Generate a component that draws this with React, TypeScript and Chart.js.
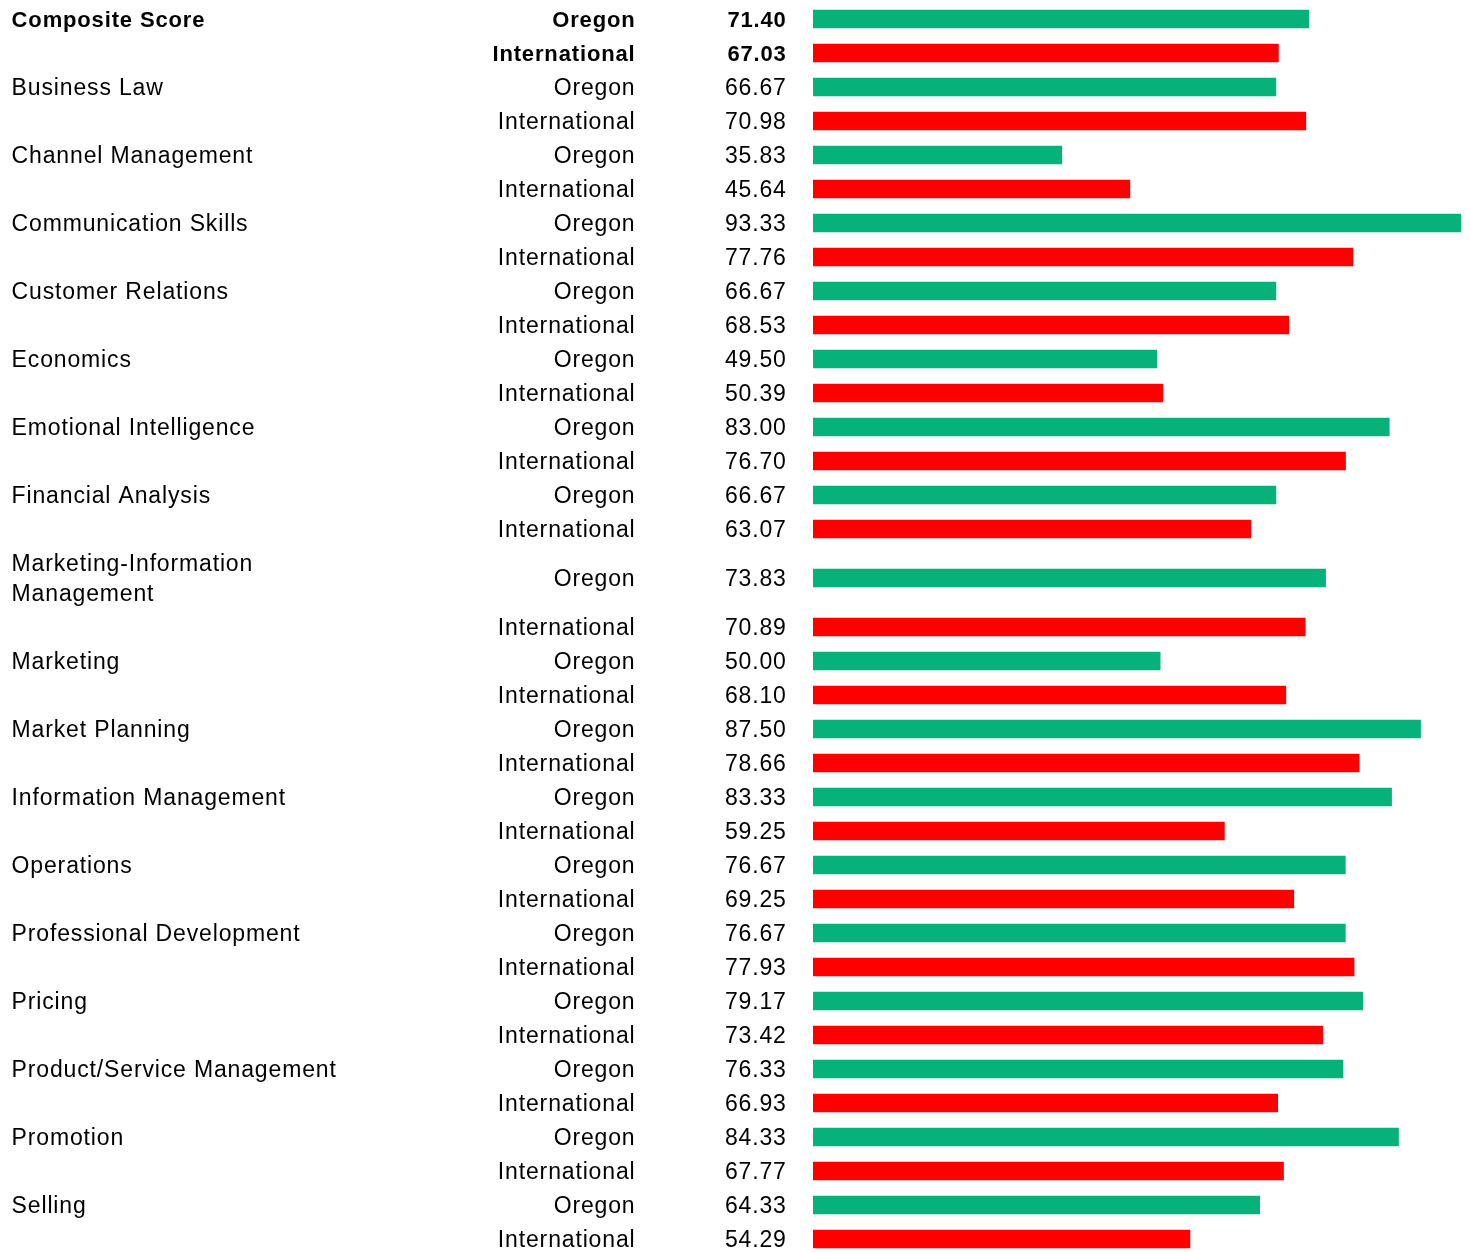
import React, { useEffect, useRef } from 'react';
import { Chart, registerables } from 'chart.js';

Chart.register(...registerables);

// ---- data ----
const categories: (string | string[])[] = [
  'Composite Score',
  'Business Law',
  'Channel Management',
  'Communication Skills',
  'Customer Relations',
  'Economics',
  'Emotional Intelligence',
  'Financial Analysis',
  ['Marketing-Information', 'Management'],
  'Marketing',
  'Market Planning',
  'Information Management',
  'Operations',
  'Professional Development',
  'Pricing',
  'Product/Service Management',
  'Promotion',
  'Selling',
];

const groups = ['Oregon', 'International'];

const oregonScores = [
  71.4, 66.67, 35.83, 93.33, 66.67, 49.5, 83.0, 66.67, 73.83, 50.0, 87.5, 83.33, 76.67, 76.67, 79.17,
  76.33, 84.33, 64.33,
];

const internationalScores = [
  67.03, 70.98, 45.64, 77.76, 68.53, 50.39, 76.7, 63.07, 70.89, 68.1, 78.66, 59.25, 69.25, 77.93, 73.42,
  66.93, 67.77, 54.29,
];

const boldCategoryCount = 1; // "Composite Score" rows are bold

// ---- styles / layout ----
const GREEN = '#06B17A';
const RED = '#FF0000';
const FONT = "'Liberation Sans', Arial, Helvetica, sans-serif";
const W = 1471;
const H = 1253;
const ROW_PX = 34;
const LINE_PX = 30;
const TOP_PX = 2;

export default function App() {
  const ref = useRef<HTMLCanvasElement>(null);

  useEffect(() => {
    if (!ref.current) return;

    // row centres in "row units", taller rows for multi-line category labels
    const rowPos: number[] = [];
    let top = 0;
    categories.forEach((c) => {
      const lines = Array.isArray(c) ? c.length : 1;
      const h = 1 + ((lines - 1) * LINE_PX) / ROW_PX;
      rowPos.push(top + h / 2);
      top += h;
      rowPos.push(top + 0.5);
      top += 1;
    });

    const catLabels: (string | string[])[] = [];
    const grpLabels: string[] = [];
    const valLabels: string[] = [];
    categories.forEach((c, k) => {
      catLabels.push(c, '');
      grpLabels.push(groups[0], groups[1]);
      valLabels.push(oregonScores[k].toFixed(2), internationalScores[k].toFixed(2));
    });

    const boldRows = boldCategoryCount * 2;
    const yMin = -TOP_PX / ROW_PX;
    const yMax = yMin + H / ROW_PX;

    const makeAxis = (
      labels: (string | string[])[],
      weight: number,
      width: number,
      crossAlign: 'near' | 'far',
      padding: number
    ) => ({
      type: 'linear',
      position: 'left',
      reverse: true,
      min: yMin,
      max: yMax,
      bounds: 'data',
      offset: false,
      weight,
      grid: { display: false, drawTicks: false },
      border: { display: false },
      afterBuildTicks: (s: any) => {
        s.ticks = rowPos.map((v) => ({ value: v }));
      },
      afterFit: (s: any) => {
        s.width = width;
        s.paddingTop = 0;
        s.paddingBottom = 0;
      },
      ticks: {
        autoSkip: false,
        crossAlign,
        padding,
        color: '#000',
        labelOffset: 2,
        callback: (_v: any, i: number) => labels[i],
        font: (ctx: any) => {
          const bold = typeof ctx.index === 'number' && ctx.index < boldRows;
          return { family: FONT, size: bold ? 22 : 23, weight: bold ? 'bold' : 'normal', lineHeight: 1.3 };
        },
      },
    });

    const spacingPlugin = {
      id: 'letterSpacing',
      beforeDraw(chart: any) {
        chart.ctx.letterSpacing = '0.85px';
      },
      afterDraw(chart: any) {
        chart.ctx.letterSpacing = '0px';
      },
    };

    const maxVal = Math.max(...oregonScores, ...internationalScores);

    const chart = new Chart(ref.current, {
      type: 'bar',
      data: {
        datasets: [
          {
            label: groups[0],
            data: oregonScores.map((v, k) => ({ x: v, y: rowPos[2 * k] })),
            backgroundColor: GREEN,
            barThickness: 18,
            grouped: false,
            yAxisID: 'val',
            xAxisID: 'x',
          },
          {
            label: groups[1],
            data: internationalScores.map((v, k) => ({ x: v, y: rowPos[2 * k + 1] })),
            backgroundColor: RED,
            barThickness: 18,
            grouped: false,
            yAxisID: 'val',
            xAxisID: 'x',
          },
        ],
      } as any,
      options: {
        indexAxis: 'y',
        animation: false,
        responsive: false,
        events: [],
        layout: { padding: { left: 11.6, right: 10, top: 0, bottom: 0 } },
        plugins: { legend: { display: false }, tooltip: { enabled: false } },
        scales: {
          x: { type: 'linear', display: false, min: 0, max: maxVal },
          cat: makeAxis(catLabels, 3, 399, 'far', 0),
          grp: makeAxis(grpLabels, 2, 224.9, 'near', 0),
          val: makeAxis(valLabels, 1, 177.5, 'near', 26.3),
        },
      } as any,
      plugins: [spacingPlugin],
    });

    return () => chart.destroy();
  }, []);

  return (
    <div style={{ position: 'fixed', left: 0, top: 0, width: W, height: H, background: '#fff' }}>
      <canvas ref={ref} width={W} height={H} style={{ display: 'block', width: W, height: H }} />
    </div>
  );
}
